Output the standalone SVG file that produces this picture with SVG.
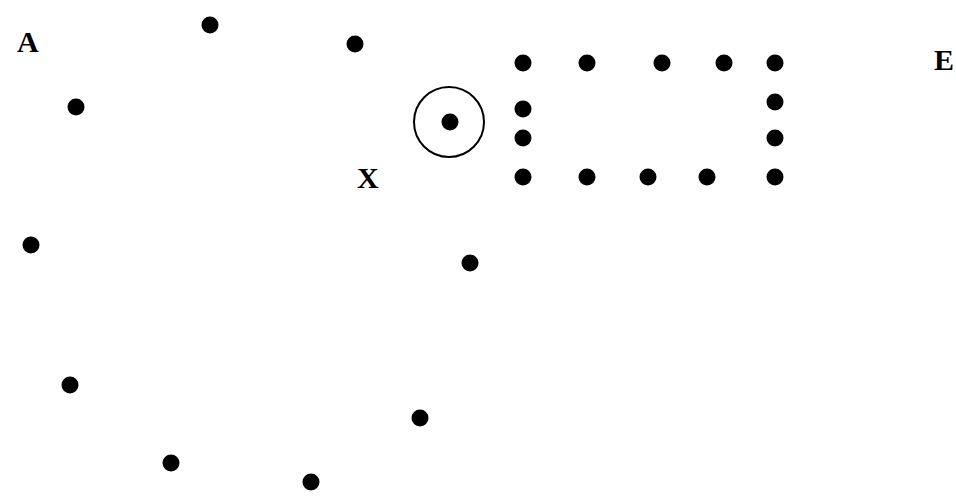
<svg xmlns="http://www.w3.org/2000/svg" width="956" height="496" viewBox="0 0 956 496">
<style>
.d{fill:#000}
.t{font-family:"Liberation Serif",serif;font-weight:bold;font-size:30px;fill:#000}
</style>
<rect width="956" height="496" fill="#fff"/>
<g id="labels">
<text class="t" x="17" y="52">A</text>
<text class="t" x="357" y="188">X</text>
<text class="t" x="934" y="70">E</text>
</g>
<g id="target">
<circle cx="449" cy="122" r="35" fill="none" stroke="#000" stroke-width="2"/>
<circle class="d" cx="450" cy="122" r="8.5"/>
</g>
<g id="rect-dots">
<circle class="d" cx="523" cy="63" r="8.5"/>
<circle class="d" cx="587" cy="63" r="8.5"/>
<circle class="d" cx="662" cy="63" r="8.5"/>
<circle class="d" cx="724" cy="63" r="8.5"/>
<circle class="d" cx="775" cy="63" r="8.5"/>
<circle class="d" cx="523" cy="109" r="8.5"/>
<circle class="d" cx="523" cy="138" r="8.5"/>
<circle class="d" cx="775" cy="102" r="8.5"/>
<circle class="d" cx="775" cy="138" r="8.5"/>
<circle class="d" cx="523" cy="177" r="8.5"/>
<circle class="d" cx="587" cy="177" r="8.5"/>
<circle class="d" cx="648" cy="177" r="8.5"/>
<circle class="d" cx="707" cy="177" r="8.5"/>
<circle class="d" cx="775" cy="177" r="8.5"/>
</g>
<g id="scatter-dots">
<circle class="d" cx="210" cy="25" r="8.5"/>
<circle class="d" cx="355" cy="44" r="8.5"/>
<circle class="d" cx="76" cy="107" r="8.5"/>
<circle class="d" cx="31" cy="245" r="8.5"/>
<circle class="d" cx="470" cy="263" r="8.5"/>
<circle class="d" cx="70" cy="385" r="8.5"/>
<circle class="d" cx="420" cy="418" r="8.5"/>
<circle class="d" cx="171" cy="463" r="8.5"/>
<circle class="d" cx="311" cy="482" r="8.5"/>
</g>
</svg>
